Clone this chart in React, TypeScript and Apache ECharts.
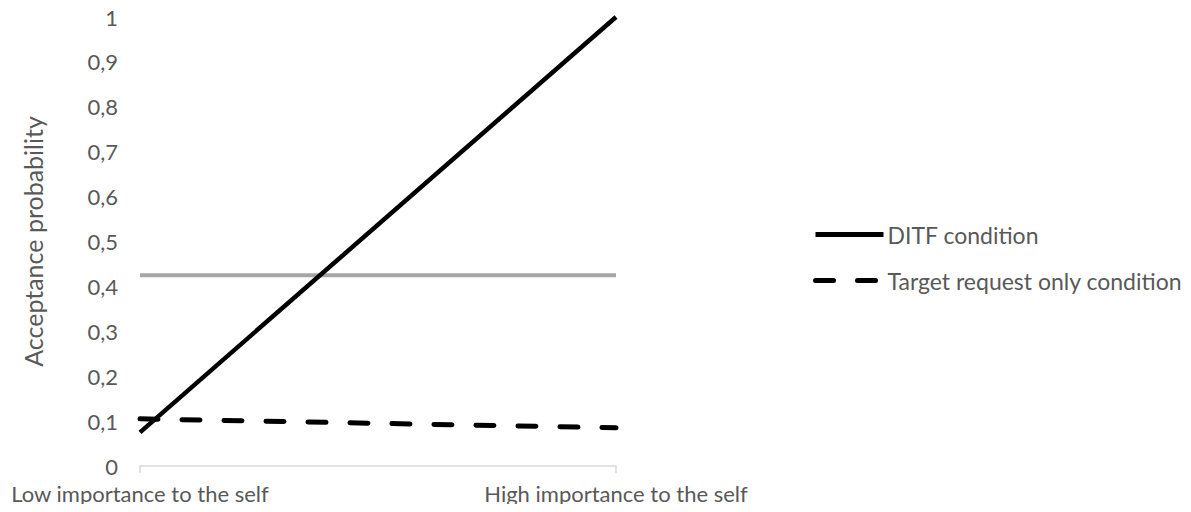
import React, { useEffect, useRef } from "react";
import * as echarts from "echarts";

const categories = ["Low importance to the self", "High importance to the self"];
const ditfValues = [0.075, 1.0];
const targetOnlyValues = [0.105, 0.085];
const referenceValues = [0.425, 0.425];
const yTicks = { min: 0, max: 1, interval: 0.1 };

export default function App() {
  const ref = useRef<HTMLDivElement>(null);
  useEffect(() => {
    if (!ref.current) return;
    const chart = echarts.init(ref.current, null, { renderer: "svg" });
    const font = "Lato";
    chart.setOption({
      animation: false,
      backgroundColor: "#ffffff",
      grid: { left: 140, right: 575, top: 17, bottom: 46, containLabel: false },
      legend: {
        data: ["DITF condition", "Target request only condition"],
        orient: "vertical",
        left: 813,
        top: 223,
        padding: 0,
        itemWidth: 68,
        itemHeight: 27,
        itemGap: 23,
        itemStyle: { opacity: 0 },
        lineStyle: { width: 5 },
        textStyle: { color: "#595959", fontSize: 23, fontFamily: font, padding: [0, 0, 0, -1] },
      },
      xAxis: {
        type: "category",
        data: categories,
        boundaryGap: false,
        axisLine: { lineStyle: { color: "#d9d9d9", width: 1.5 } },
        axisTick: { show: true, length: 7, lineStyle: { color: "#d9d9d9", width: 1.5 } },
        axisLabel: { color: "#595959", fontSize: 22, fontFamily: font, margin: 16 },
        splitLine: { show: false },
      },
      yAxis: {
        type: "value",
        min: yTicks.min,
        max: yTicks.max,
        interval: yTicks.interval,
        name: "Acceptance probability",
        nameLocation: "middle",
        nameGap: 95,
        nameTextStyle: { color: "#595959", fontSize: 25, fontFamily: font },
        axisLine: { show: false },
        axisTick: { show: false },
        splitLine: { show: false },
        axisLabel: {
          color: "#595959",
          fontSize: 22,
          fontFamily: font,
          margin: 22,
          formatter: (v: number) => String(Math.round(v * 10) / 10).replace(".", ","),
        },
      },
      series: [
        {
          name: "Reference",
          type: "line",
          data: referenceValues,
          symbol: "none",
          lineStyle: { color: "#a6a6a6", width: 4 },
          z: 1,
        },
        {
          name: "DITF condition",
          type: "line",
          data: ditfValues,
          symbol: "none",
          itemStyle: { color: "#000000" },
          lineStyle: { color: "#000000", width: 4.5 },
          z: 3,
        },
        {
          name: "Target request only condition",
          type: "line",
          data: targetOnlyValues,
          symbol: "none",
          itemStyle: { color: "#000000" },
          lineStyle: { color: "#000000", width: 5, type: [18, 24], cap: "round" },
          z: 2,
        },
      ],
    });
    return () => chart.dispose();
  }, []);
  return <div ref={ref} style={{ width: 1191, height: 512, margin: -8 }} />;
}
